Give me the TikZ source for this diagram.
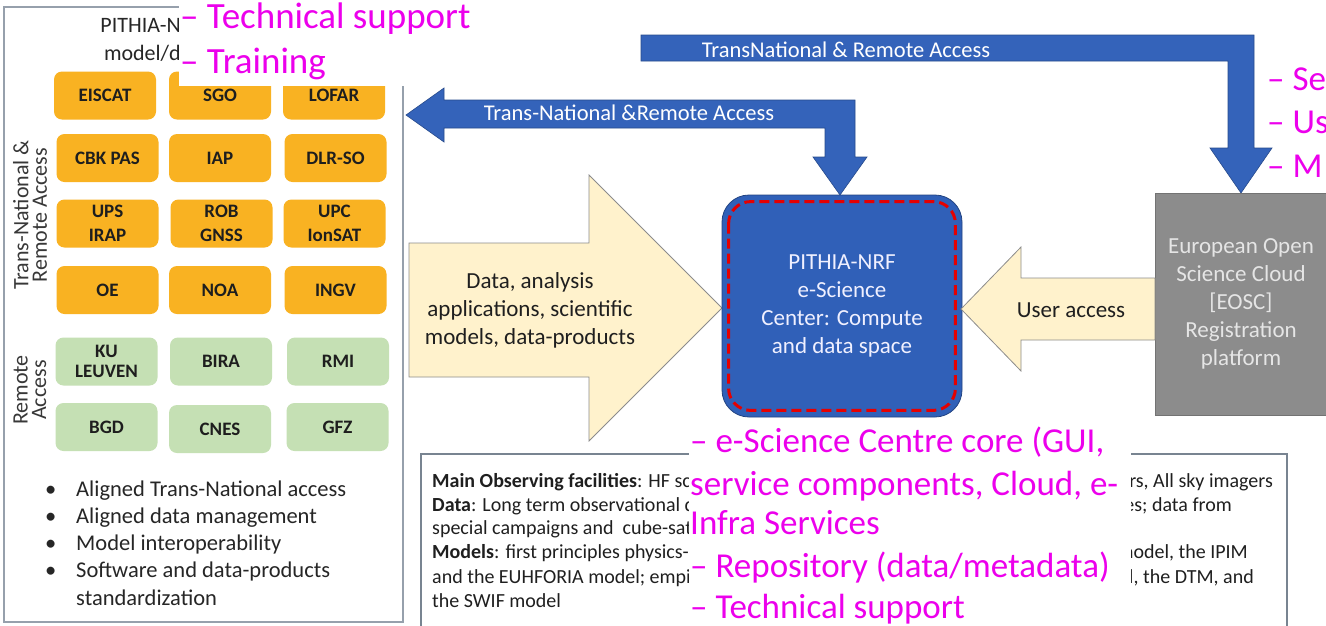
\documentclass[tikz,border=0pt]{standalone}
\usepackage{fontspec}
\setmainfont{Carlito}
\usetikzlibrary{calc}
\definecolor{orng}{RGB}{249,178,34}
\definecolor{grn}{RGB}{197,224,180}
\definecolor{beigec}{RGB}{255,242,204}
\definecolor{beigeedge}{RGB}{140,140,140}
\definecolor{arrblue}{RGB}{52,99,186}
\definecolor{boxblue}{RGB}{48,96,184}
\definecolor{magc}{RGB}{236,0,236}
\definecolor{greyc}{RGB}{140,140,140}
\definecolor{framec}{RGB}{150,160,172}
\definecolor{framed}{RGB}{120,132,145}
\definecolor{labtxt}{RGB}{30,30,30}
\newcommand\myfs[2]{\fontsize{#1}{#2}\selectfont}
\tikzset{
  fac/.style={rounded corners=8pt, minimum width=102pt, minimum height=48pt, inner sep=1pt,
    align=center, font=\bfseries\myfs{19}{24}, text=labtxt},
  org/.style={fac, fill=orng},
  gbox/.style={fac, fill=grn},
  rotlab/.style={rotate=90, align=center, font=\myfs{22}{18.5}, text=black!78},
  bul/.style={anchor=base west, inner sep=0, font=\myfs{22.5}{27}, text=black!85},
  blk/.style={fill=arrblue, draw=arrblue!75!black, line width=0.6pt},
  bge/.style={fill=beigec, draw=beigeedge, line width=0.8pt},
  arrtxt/.style={text=white, font=\myfs{22.5}{26}, anchor=base, inner sep=0},
  magtxt/.style={text=magc, anchor=base west, inner sep=0},
  smalltxt/.style={anchor=base west, inner sep=0, font=\myfs{20}{24}, text=black!88},
  smallr/.style={anchor=base east, inner sep=0, font=\myfs{20}{24}, text=black!88},
}
\begin{document}
\begin{tikzpicture}[x=1pt,y=-1pt]
\path[use as bounding box] (0,0) rectangle (1326,625);
\clip (0,0) rectangle (1326,625);
\fill[white] (0,0) rectangle (1326,625);

% ---------- left panel ----------
\draw[framec, line width=1.5pt] (4,7) rectangle (403,622);
\node[anchor=base east, inner sep=0, font=\myfs{22}{28}, text=black!85] (ttl1) at (181,32) {PITHIA-N};
\node[anchor=base east, inner sep=0, font=\myfs{22}{28}, text=black!85] (ttl2) at (181,60) {model/d};

\node[org] (o11) at (105,95.5) {EISCAT};
\node[org] (o12) at (220,95.5) {SGO};
\node[org] (o13) at (334,95.5) {LOFAR};
\node[org] (o21) at (107.5,158) {CBK PAS};
\node[org] (o22) at (220,158) {IAP};
\node[org] (o23) at (335.5,158) {DLR-SO};
\node[org] (o31) at (107.5,223.5) {UPS\\IRAP};
\node[org] (o32) at (221.5,223.5) {ROB\\GNSS};
\node[org] (o33) at (334.5,223.5) {UPC\\IonSAT};
\node[org] (o41) at (107.5,290) {OE};
\node[org] (o42) at (220,290) {NOA};
\node[org] (o43) at (335.5,290) {INGV};

\node[gbox, font=\bfseries\myfs{19}{20}] (g11) at (106.5,361.5) {KU\\LEUVEN};
\node[gbox] (g12) at (221,361.5) {BIRA};
\node[gbox] (g13) at (338,361.5) {RMI};
\node[gbox] (g21) at (106.5,427) {BGD};
\node[gbox] (g22) at (220,429) {CNES};
\node[gbox] (g23) at (337.5,427) {GFZ};

\node[rotlab] (lblA) at (30,215) {Trans-National \&\\Remote Access};
\node[rotlab] (lblB) at (30,390) {Remote\\Access};

\node[bul] (b1) at (45,496) {\makebox[31pt][l]{\textbullet}Aligned Trans-National access};
\node[bul] (b2) at (45,523) {\makebox[31pt][l]{\textbullet}Aligned data management};
\node[bul] (b3) at (45,550) {\makebox[31pt][l]{\textbullet}Model interoperability};
\node[bul] (b4) at (45,577) {\makebox[31pt][l]{\textbullet}Software and data-products};
\node[bul] (b5) at (76,605) {standardization};

% white box with magenta text (top left)
\node[fill=white, anchor=north west, minimum width=461pt, minimum height=86pt, inner sep=0] (wbox1) at (179,0) {};
\node[magtxt, font=\myfs{37}{45}] (m1) at (180,28) {– Technical support};
\node[magtxt, font=\myfs{37}{45}] (m2) at (180,73) {– Training};

% ---------- blue arrows ----------
\draw[blk] (641,35) -- (1254,35) -- (1254,148) -- (1272,148) -- (1241,193) -- (1210,148)
  -- (1228,148) -- (1228,61) -- (641,61) -- cycle;
\node[arrtxt] (t1) at (846,57) {TransNational \& Remote Access};

\draw[blk] (406,115) -- (444,88) -- (444,100) -- (855,100) -- (855,157) -- (867,157) -- (840,195)
  -- (813,157) -- (825,157) -- (825,128) -- (444,128) -- (444,142) -- cycle;
\node[arrtxt] (t2) at (629,120) {Trans-National \&Remote Access};

% ---------- beige arrow left ----------
\draw[bge] (409,243) -- (589,243) -- (589,175) -- (722,308) -- (589,441) -- (589,377) -- (409,377) -- cycle;
\node[align=center, font=\myfs{23}{28}, text=black!88] (dat) at (530,310) {Data, analysis\\applications, scientific\\models, data-products};

% ---------- central e-Science box ----------
\node[rounded corners=27pt, fill=boxblue, draw=boxblue!70!black, line width=0.8pt,
  minimum width=240pt, minimum height=222pt, text=white!94!blue, align=center,
  font=\myfs{23}{28}] (esc) at (842,306) {PITHIA-NRF\\e-Science\\Center: Compute\\and data space};
\draw[red!90!black, line width=3pt, dash pattern=on 10pt off 5pt, rounded corners=22pt]
  ($(esc.north west)+(7,7)$) rectangle ($(esc.south east)+(-7,-7)$);

% ---------- gray EOSC box ----------
\node[fill=greyc, draw=black!55, line width=0.8pt, anchor=north west, minimum width=200pt,
  minimum height=222pt, inner sep=0] (eosc) at (1155,193) {};
\node[align=center, font=\myfs{23}{28}, text=white!90!black] (eosct) at (1241,304)
  {European Open\\Science Cloud\\{}[EOSC]\\Registration\\platform};

% ---------- user access arrow ----------
\draw[bge] (961,309) -- (1021,247) -- (1021,278) -- (1155,278) -- (1155,340) -- (1021,340) -- (1021,371) -- cycle;
\node[font=\myfs{23}{28}, text=black!88] (ua) at (1071,310) {User access};

% magenta text (top right, cut by the picture edge as in the reference)
\node[magtxt, font=\myfs{35}{43}] (m3) at (1267,90) {– Se};
\node[magtxt, font=\myfs{35}{43}] (m4) at (1267,133) {– Us};
\node[magtxt, font=\myfs{35}{43}] (m5) at (1267,177) {– M};

% ---------- bottom text box ----------
\draw[framed, line width=1.2pt] (421,454) rectangle (1287,660);
\node[smalltxt] (l1) at (432,487) {\textbf{Main Observing facilities}: HF sc};
\node[smalltxt] (l2) at (432,511) {\textbf{Data}: Long term observational d};
\node[smalltxt] (l3) at (432,534) {special campaigns and\ \ cube-sat};
\node[smalltxt] (l4) at (432,558) {\textbf{Models}: first principles physics-};
\node[smalltxt] (l5) at (432,583) {and the EUHFORIA model; empi};
\node[smalltxt] (l6) at (432,607) {the SWIF model};
\node[smallr] (r1) at (1273,487) {rs, All sky imagers};
\node[smallr] (r2) at (1232,511) {es; data from};
\node[smallr] (r4) at (1248,558) {model, the IPIM};
\node[smallr] (r5) at (1254,583) {l, the DTM, and};

% white box with magenta text (bottom)
\node[fill=white, anchor=north west, minimum width=442pt, minimum height=210pt, inner sep=0] (wbox2) at (689,424) {};
\node[magtxt, font=\myfs{35}{42}] (m6) at (690,452) {– e-Science Centre core (GUI,};
\node[magtxt, font=\myfs{35}{42}] (m7) at (690,495) {service components, Cloud, e-};
\node[magtxt, font=\myfs{35}{42}] (m8) at (690,534) {Infra Services};
\node[magtxt, font=\myfs{35}{42}] (m9) at (690,577) {– Repository (data/metadata)};
\node[magtxt, font=\myfs{35}{42}] (m10) at (690,618) {– Technical support};
\end{tikzpicture}
\end{document}
